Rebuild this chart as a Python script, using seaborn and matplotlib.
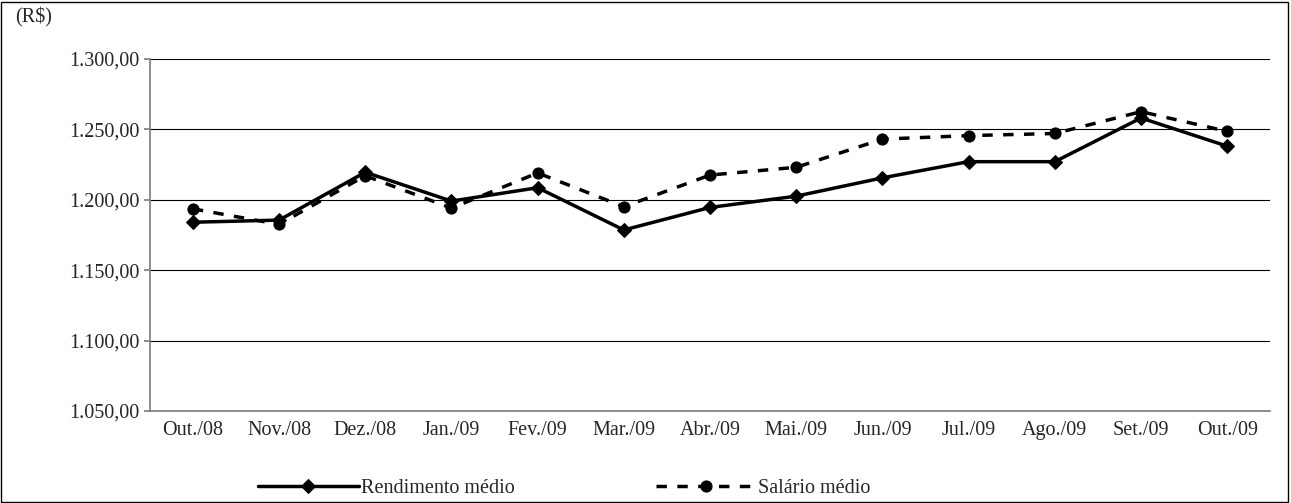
import matplotlib
matplotlib.use("Agg")
import matplotlib.pyplot as plt
import seaborn as sns
import pandas as pd

months = ["Out./08", "Nov./08", "Dez./08", "Jan./09", "Fev./09", "Mar./09", "Abr./09",
          "Mai./09", "Jun./09", "Jul./09", "Ago./09", "Set./09", "Out./09"]
rendimento = [1184, 1185.5, 1219.5, 1199, 1208.5, 1178.5, 1194.5, 1202.5, 1215.5, 1227, 1227, 1258, 1238]
salario = [1193.5, 1182.5, 1217, 1194, 1219, 1195, 1217.5, 1223, 1243, 1245.5, 1247, 1262.5, 1248.5]

sns.set_theme(style="white")
plt.rcParams['font.family'] = ['Liberation Serif', 'DejaVu Serif']

df = pd.DataFrame({"mes": months, "Rendimento médio": rendimento, "Salário médio": salario})
x = list(range(len(months)))

fig = plt.figure(figsize=(12.91, 5.03), dpi=100)
ax = fig.add_axes([0.116, 0.183, 0.868, 0.700])
sns.lineplot(x=x, y=df["Rendimento médio"], ax=ax, color="black", linewidth=2.5,
             marker="D", markersize=7, markeredgecolor="black", label="Rendimento médio")
sns.lineplot(x=x, y=df["Salário médio"], ax=ax, color="black", linewidth=2.5,
             linestyle=(0, (3, 3)), marker="o", markersize=8, markeredgecolor="black",
             label="Salário médio")

ax.set_xlim(-0.5, len(months) - 0.5)
ax.set_ylim(1050, 1300)
ax.set_yticks(range(1050, 1301, 50))
ax.set_yticklabels([f"{v // 1000}.{v % 1000:03d},00" for v in range(1050, 1301, 50)], fontsize=14.5)
ax.set_xticks(x)
ax.set_xticklabels(months, fontsize=14.5)
ax.yaxis.grid(True, color="black", linewidth=0.8)
ax.set_xlabel("")
ax.set_ylabel("")
for s in ["top", "right"]:
    ax.spines[s].set_visible(False)
for s in ["left", "bottom"]:
    ax.spines[s].set_color("#808080")
ax.tick_params(axis="both", length=4, color="#808080", left=True, bottom=False)
fig.text(0.012, 0.955, "(R$)", fontsize=14.5)

ax.legend(loc="lower center", bbox_to_anchor=(0.37, -0.3), ncol=2, frameon=False,
          fontsize=14.5, columnspacing=7, handlelength=5, handletextpad=0.1)

fig.patches.append(plt.Rectangle((0.001, 0.002), 0.997, 0.995, transform=fig.transFigure,
                                 fill=False, edgecolor="black", linewidth=1))
fig.savefig("out.png", dpi=100)
